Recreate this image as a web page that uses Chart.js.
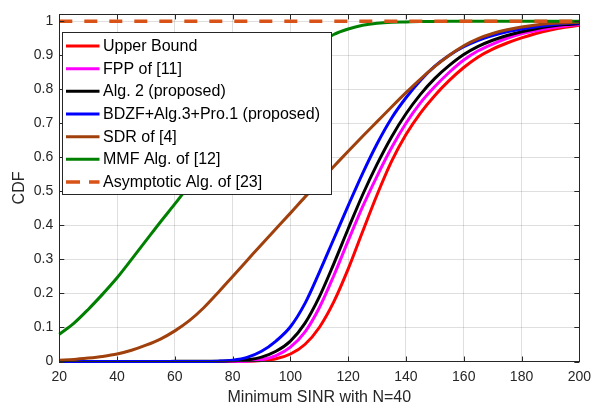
<!DOCTYPE html>
<html>
<head>
<meta charset="utf-8">
<script src="https://cdn.jsdelivr.net/npm/chart.js@4"></script>
<style>
  html, body { margin: 0; padding: 0; background: #fff; }
</style>
</head>
<body>
<canvas id="cdfChart" width="598" height="407"></canvas>
<script>
// SINR sample points
const sinr = [20, 25, 30, 35, 40, 45, 50, 55, 60, 65, 70, 75, 80, 85, 90, 95, 100, 105, 110, 115,
              120, 125, 130, 135, 140, 145, 150, 155, 160, 165, 170, 175, 180, 185, 190, 195, 200];

// CDF values of each scheme at the sinr points
const upperBound = [0, 0, 0, 0, 0, 0, 0, 0, 0, 0, 0, 0, 0, 0.0005, 0.003, 0.008, 0.022, 0.05, 0.1, 0.175,
                    0.272, 0.382, 0.49, 0.588, 0.667, 0.73, 0.782, 0.826, 0.864, 0.895, 0.918, 0.936, 0.951, 0.964, 0.974, 0.982, 0.988];
const fpp = [0, 0, 0, 0, 0, 0, 0, 0, 0, 0, 0, 0, 0, 0.001, 0.005, 0.017, 0.042, 0.086, 0.158, 0.252,
             0.355, 0.455, 0.545, 0.628, 0.7, 0.76, 0.808, 0.85, 0.886, 0.913, 0.933, 0.95, 0.963, 0.972, 0.98, 0.986, 0.99];
const alg2 = [0, 0, 0, 0, 0, 0, 0, 0, 0.0005, 0.001, 0.001, 0.001, 0.002, 0.005, 0.013, 0.03, 0.06, 0.112, 0.19, 0.287,
              0.39, 0.49, 0.58, 0.66, 0.728, 0.785, 0.832, 0.87, 0.902, 0.926, 0.944, 0.958, 0.969, 0.978, 0.985, 0.99, 0.993];
const bdzf = [0, 0, 0, 0, 0, 0, 0, 0, 0, 0, 0, 0.001, 0.004, 0.012, 0.03, 0.06, 0.102, 0.17, 0.262, 0.36,
              0.458, 0.553, 0.64, 0.715, 0.775, 0.826, 0.868, 0.9, 0.925, 0.944, 0.958, 0.969, 0.977, 0.984, 0.989, 0.993, 0.995];
const sdr = [0.004, 0.006, 0.01, 0.015, 0.022, 0.033, 0.048, 0.066, 0.09, 0.12, 0.158, 0.203, 0.25, 0.297, 0.344, 0.39, 0.436, 0.483, 0.528, 0.573,
             0.618, 0.662, 0.705, 0.748, 0.79, 0.83, 0.867, 0.9, 0.928, 0.949, 0.964, 0.975, 0.983, 0.989, 0.993, 0.995, 0.997];
const mmf = [0.08, 0.112, 0.153, 0.198, 0.246, 0.3, 0.355, 0.41, 0.463, 0.518, 0.571, 0.624, 0.676, 0.726, 0.774, 0.818, 0.86, 0.9, 0.935, 0.961,
             0.977, 0.988, 0.994, 0.997, 0.998, 0.999, 0.999, 1, 1, 1, 1, 1, 1, 1, 1, 1, 1];

// asymptotic algorithm sits on the CDF = 1 line
const asymSinr = [20, 200];
const asymCdf = [1, 1];

// axis ticks
const xTicks = [20, 40, 60, 80, 100, 120, 140, 160, 180, 200];
const yTicks = [0, 0.1, 0.2, 0.3, 0.4, 0.5, 0.6, 0.7, 0.8, 0.9, 1];

const axisColor = '#262626';
const fontFamily = '"Liberation Sans", Arial, Helvetica, sans-serif';

function toPoints(xs, ys) {
    return xs.map((x, i) => ({ x: x, y: ys[i] }));
}

const series = [
    { label: 'Upper Bound', xs: sinr, ys: upperBound, color: '#ff0000' },
    { label: 'FPP of [11]', xs: sinr, ys: fpp, color: '#ff00ff' },
    { label: 'Alg. 2 (proposed)', xs: sinr, ys: alg2, color: '#000000' },
    { label: 'BDZF+Alg.3+Pro.1 (proposed)', xs: sinr, ys: bdzf, color: '#0000ff' },
    { label: 'SDR of [4]', xs: sinr, ys: sdr, color: '#a0400c' },
    { label: 'MMF Alg. of [12]', xs: sinr, ys: mmf, color: '#008000' },
    { label: 'Asymptotic Alg. of [23]', xs: asymSinr, ys: asymCdf, color: '#d95319', dash: [13, 12] }
];

// later series are painted on top (lower order = drawn last)
const datasets = series.map((s, i) => ({
    label: s.label,
    data: toPoints(s.xs, s.ys),
    borderColor: s.color,
    backgroundColor: s.color,
    borderWidth: s.dash ? 3.5 : 3,
    borderDash: s.dash || [],
    pointRadius: 0,
    fill: false,
    cubicInterpolationMode: 'monotone',
    clip: false,
    order: series.length - i
}));

// box around the axes with inward tick marks on all four sides
const axesBox = {
    id: 'axesBox',
    afterDatasetsDraw(chart) {
        const { ctx, chartArea: a, scales } = chart;
        const len = 5;
        ctx.save();
        ctx.strokeStyle = axisColor;
        ctx.lineWidth = 1;
        ctx.beginPath();
        xTicks.forEach(v => {
            const px = Math.round(scales.x.getPixelForValue(v)) + 0.5;
            ctx.moveTo(px, a.bottom); ctx.lineTo(px, a.bottom - len);
            ctx.moveTo(px, a.top); ctx.lineTo(px, a.top + len);
        });
        yTicks.forEach(v => {
            const py = Math.round(scales.y.getPixelForValue(v)) + 0.5;
            ctx.moveTo(a.left, py); ctx.lineTo(a.left + len, py);
            ctx.moveTo(a.right, py); ctx.lineTo(a.right - len, py);
        });
        ctx.stroke();
        ctx.strokeRect(Math.round(a.left) + 0.5, Math.round(a.top) + 0.5,
                       Math.round(a.right - a.left), Math.round(a.bottom - a.top));
        ctx.restore();
    }
};

// legend box placed inside the plot, over the curves
const innerLegend = {
    id: 'innerLegend',
    afterDraw(chart) {
        const { ctx } = chart;
        const box = { left: 62.5, top: 32.5, width: 269, height: 162 };
        const rowGap = 22.67;
        ctx.save();
        ctx.fillStyle = '#ffffff';
        ctx.fillRect(box.left, box.top, box.width, box.height);
        ctx.strokeStyle = axisColor;
        ctx.lineWidth = 1;
        ctx.strokeRect(box.left, box.top, box.width, box.height);
        ctx.font = '16px ' + fontFamily;
        ctx.textBaseline = 'middle';
        ctx.fillStyle = '#000000';
        chart.data.datasets.forEach((ds, i) => {
            const y = box.top + 13.5 + i * rowGap;
            ctx.beginPath();
            ctx.strokeStyle = ds.borderColor;
            ctx.lineWidth = ds.borderWidth;
            ctx.setLineDash(ds.borderDash.length ? [14, 9] : []);
            ctx.moveTo(box.left + 3.5, y);
            ctx.lineTo(box.left + 37, y);
            ctx.stroke();
            ctx.setLineDash([]);
            ctx.fillText(ds.label, box.left + 40.5, y + 0.5);
        });
        ctx.restore();
    }
};

const ctx = document.getElementById('cdfChart').getContext('2d');

new Chart(ctx, {
    type: 'line',
    data: { datasets: datasets },
    options: {
        responsive: false,
        animation: false,
        devicePixelRatio: 1,
        layout: { padding: { top: 9.3, right: 13, bottom: 0, left: 0 } },
        plugins: {
            legend: { display: false },
            tooltip: { enabled: false }
        },
        scales: {
            x: {
                type: 'linear',
                min: 20,
                max: 200,
                afterBuildTicks: scale => { scale.ticks = xTicks.map(v => ({ value: v })); },
                afterFit: scale => { scale.height = 45.5; },
                grid: { color: 'rgba(38,38,38,0.15)', drawTicks: false },
                border: { display: false },
                ticks: {
                    color: axisColor,
                    padding: 7,
                    maxRotation: 0,
                    font: { family: fontFamily, size: 14 }
                },
                title: {
                    display: true,
                    text: 'Minimum SINR with N=40',
                    color: axisColor,
                    padding: { top: 0, bottom: 0 },
                    font: { family: fontFamily, size: 16 }
                }
            },
            y: {
                min: 0,
                max: 1.02,
                afterBuildTicks: scale => { scale.ticks = yTicks.map(v => ({ value: v })); },
                afterFit: scale => { scale.width = 59.3; },
                grid: { color: 'rgba(38,38,38,0.15)', drawTicks: false },
                border: { display: false },
                ticks: {
                    color: axisColor,
                    padding: 6,
                    font: { family: fontFamily, size: 14 },
                    callback: v => String(Math.round(v * 10) / 10)
                },
                title: {
                    display: true,
                    text: 'CDF',
                    color: axisColor,
                    padding: { top: 9.6, bottom: 0 },
                    font: { family: fontFamily, size: 16 }
                }
            }
        }
    },
    plugins: [axesBox, innerLegend]
});
</script>
</body>
</html>
